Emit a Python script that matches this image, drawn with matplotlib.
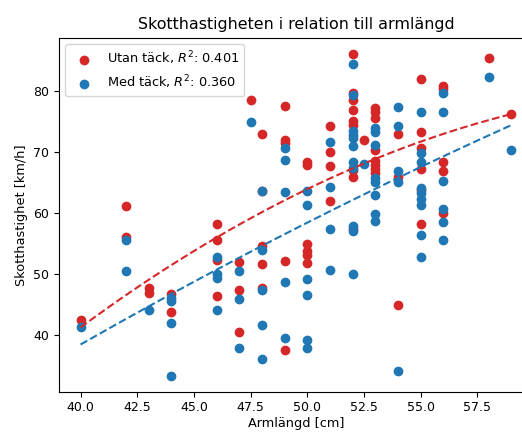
import numpy as np
import matplotlib
matplotlib.use("Agg")
import matplotlib.pyplot as plt

# armlängd [cm] och skotthastighet [km/h], utan täck
x_utan = [40, 42, 42, 43, 43, 44, 44,
          46, 46, 46, 46, 47, 47, 47, 47.5,
          48, 48, 48, 48, 48, 49, 49, 49, 49, 49,
          50, 50, 50, 50, 50, 50, 51, 51, 51, 51,
          52, 52, 52, 52, 52, 52, 52, 52, 52, 52.5,
          53, 53, 53, 53, 53, 53, 53, 53, 54, 54, 54,
          55, 55, 55, 55, 55, 55, 56, 56, 56, 56, 56, 58, 59]
y_utan = [42.5, 61.1, 56.0, 47.6, 46.8, 46.7, 43.7,
          58.2, 55.6, 52.2, 46.3, 52.0, 47.4, 40.5, 78.6,
          73.0, 63.6, 54.6, 51.6, 47.6, 77.6, 72.0, 71.5, 52.1, 37.5,
          68.3, 67.8, 54.9, 53.8, 53.1, 51.8, 74.3, 70.0, 67.7, 61.9,
          86.1, 79.7, 78.6, 76.9, 75.0, 74.5, 67.1, 65.9, 57.3, 72.0,
          77.2, 76.5, 75.6, 70.3, 68.5, 67.9, 67.2, 66.6, 73.0, 65.9, 44.9,
          82.0, 73.3, 70.7, 67.2, 63.7, 58.1, 80.8, 80.3, 68.3, 66.9, 60.0, 85.4, 76.2]

# med täck
x_med = [40, 42, 42, 43, 44, 44, 44, 44,
         46, 46, 46, 46, 47, 47, 47, 47.5,
         48, 48, 48, 48, 48, 49, 49, 49, 49, 49,
         50, 50, 50, 50, 50, 50, 51, 51, 51, 51,
         52, 52, 52, 52, 52, 52, 52, 52, 52, 52, 52, 52.5,
         53, 53, 53, 53, 53, 53, 53, 53, 54, 54, 54, 54, 54,
         55, 55, 55, 55, 55, 55, 55, 55, 55,
         56, 56, 56, 56, 56, 56, 58, 59]
y_med = [41.2, 55.6, 50.4, 44.1, 46.0, 45.6, 41.9, 33.3,
         52.8, 49.9, 49.3, 44.1, 50.5, 45.8, 37.8, 74.9,
         63.6, 53.9, 47.4, 41.6, 36.0, 70.7, 68.6, 63.5, 48.6, 39.5,
         63.6, 61.3, 49.1, 46.6, 39.1, 37.9, 71.6, 64.2, 57.3, 50.6,
         84.5, 79.4, 73.4, 72.8, 72.3, 71.0, 68.4, 67.4, 57.9, 57.0, 49.9, 68.0,
         73.9, 73.2, 71.1, 65.8, 65.1, 63.0, 59.8, 58.6, 77.3, 74.3, 66.9, 65.0, 34.1,
         76.6, 69.9, 68.4, 64.1, 63.2, 62.2, 61.3, 56.3, 52.7,
         79.6, 76.6, 65.2, 60.6, 58.5, 55.6, 82.3, 70.3]

# anpassade kurvor (andragradspolynom i x-50)
fit_utan = [-0.0475, 1.795, 63.9]
fit_med = [-0.0117, 1.883, 58.4]

r2_text = ["0.401", "0.360"]
etiketter = ["Utan täck", "Med täck"]
farger = ["tab:red", "tab:blue"]

plt.rcParams['font.size'] = 9

fig = plt.figure(figsize=(5.22, 4.32), dpi=100)
ax = fig.add_axes([0.113, 0.0933, 0.908, 0.8194])

serier = [(x_utan, y_utan), (x_med, y_med)]
for (xs, ys), lab, r2, c in zip(serier, etiketter, r2_text, farger):
    ax.scatter(xs, ys, color=c, label=lab + ", $R^2$: " + r2)

for (xs, ys), p, c in zip(serier, [fit_utan, fit_med], farger):
    xx = np.linspace(min(xs), max(xs), 100)
    ax.plot(xx, np.polyval(p, xx - 50), "--", color=c)

ax.set_title("Skotthastigheten i relation till armlängd", fontsize=11.4)
ax.set_xlabel("Armlängd [cm]", fontsize=9.3, labelpad=2)
ax.set_ylabel("Skotthastighet [km/h]", fontsize=9.3)
ax.legend(loc="upper left", fontsize=9.3)

fig.savefig("out.png", dpi=100)
